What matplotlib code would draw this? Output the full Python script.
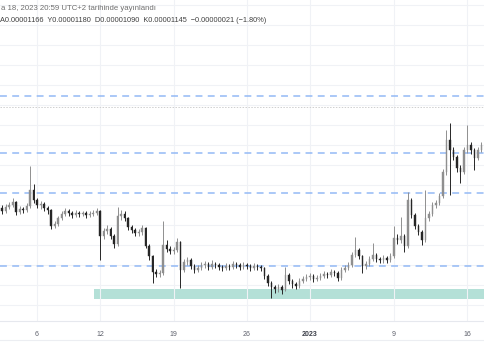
import matplotlib
matplotlib.use("Agg")
import matplotlib.pyplot as plt
import matplotlib.dates as mdates
from matplotlib.patches import Rectangle
import pandas as pd
import numpy as np

# ---- data (prices in units of 1e-8) ----
start_time = "2022-12-02 16:00"
candle_freq = "8h"
closes = [978, 986, 990, 996, 976, 982, 980, 988, 1020, 1000,
          990, 992, 984, 980, 948, 952, 964, 972, 978, 974,
          970, 974, 972, 974, 970, 972, 974, 978, 928, 938,
          942, 928, 912, 968, 972, 964, 946, 940, 934, 936,
          944, 908, 888, 856, 852, 854, 910, 902, 898, 900,
          916, 860, 876, 880, 868, 860, 864, 870, 872, 866,
          872, 870, 866, 864, 868, 866, 872, 870, 866, 870,
          868, 864, 868, 866, 864, 848, 834, 826, 822, 826,
          820, 850, 838, 832, 828, 838, 842, 846, 848, 842,
          844, 848, 852, 850, 856, 854, 844, 860, 864, 870,
          890, 900, 888, 868, 872, 882, 890, 882, 880, 884,
          880, 888, 924, 920, 928, 908, 1000, 970, 948, 936,
          920, 964, 972, 990, 994, 1008, 1056, 1120, 1100, 1086,
          1064, 1056, 1100, 1110, 1100, 1084, 1100, 1110]
highs = [990, 992, 996, 1004, 998, 988, 986, 994, 1068, 1032,
         1004, 998, 996, 988, 982, 958, 968, 978, 984, 982,
         978, 980, 978, 978, 978, 978, 980, 984, 980, 944,
         950, 946, 932, 986, 980, 978, 966, 950, 944, 942,
         950, 946, 912, 890, 862, 860, 958, 920, 908, 906,
         924, 918, 882, 886, 884, 872, 870, 876, 878, 876,
         880, 876, 874, 870, 874, 872, 878, 876, 874, 876,
         874, 872, 874, 872, 870, 866, 852, 838, 830, 832,
         830, 866, 854, 842, 836, 844, 848, 852, 854, 852,
         850, 854, 858, 856, 862, 860, 858, 866, 870, 876,
         896, 926, 904, 890, 878, 888, 914, 894, 886, 890,
         888, 894, 948, 932, 966, 932, 1016, 1004, 974, 952,
         940, 1020, 978, 996, 1000, 1014, 1062, 1140, 1154, 1106,
         1090, 1070, 1106, 1150, 1116, 1104, 1106, 1116]
lows = [972, 974, 982, 986, 970, 972, 974, 976, 984, 994,
        984, 982, 978, 972, 942, 944, 948, 960, 968, 968,
        964, 966, 966, 968, 964, 966, 968, 970, 880, 922,
        932, 922, 904, 908, 960, 958, 940, 934, 928, 928,
        930, 904, 880, 834, 846, 846, 850, 896, 892, 892,
        896, 824, 856, 870, 862, 854, 856, 860, 864, 860,
        862, 864, 860, 858, 860, 860, 862, 864, 860, 862,
        862, 858, 860, 860, 858, 842, 828, 804, 814, 816,
        812, 818, 832, 824, 822, 824, 834, 838, 840, 836,
        838, 840, 844, 844, 846, 848, 838, 840, 856, 860,
        866, 886, 882, 854, 862, 868, 878, 876, 874, 874,
        874, 876, 884, 912, 914, 896, 904, 964, 942, 930,
        910, 916, 958, 968, 984, 990, 1004, 1050, 1010, 1080,
        1056, 1034, 1052, 1094, 1092, 1060, 1080, 1096]
first_open = 984

resistance_levels = [1209, 1094, 1014, 868]
dotted_level = 1186
zone_low, zone_high = 803, 822
zone_start = "2022-12-11 11:00"

tick_dates = ["2022-12-06", "2022-12-12", "2022-12-19", "2022-12-26",
              "2023-01-01", "2023-01-09", "2023-01-16"]
tick_labels = ["6", "12", "19", "26", "2023", "9", "16"]
grid_levels = [790, 830, 870, 910, 950, 990, 1030, 1070, 1110, 1150,
               1190, 1230, 1270, 1310, 1350, 1390]

header1 = "a 18, 2023 20:59 UTC+2 tarihinde yayınlandı"
header2 = "A0.00001166  Y0.00001180  D0.00001090  K0.00001145  −0.00000021 (−1.80%)"

# ---- figure ----
fig = plt.figure(figsize=(4.85, 3.6), dpi=100)
ax = fig.add_axes([0, 39/360, 1, 321/360])

times = pd.date_range(start_time, periods=len(closes), freq=candle_freq)
x = mdates.date2num(times.to_pydatetime())
c = np.array(closes, float)
o = np.concatenate([[first_open], c[:-1]])
h = np.array(highs, float)
l = np.array(lows, float)

base = mdates.date2num(pd.Timestamp("2022-12-01").to_pydatetime())
ax.set_xlim(base + 1.476, base + 47.667)
ax.set_ylim(758, 1400)

# grid
ax.set_yticks(grid_levels)
ax.set_xticks(mdates.date2num(pd.to_datetime(tick_dates).to_pydatetime()))
ax.set_xticklabels(tick_labels)
ax.grid(True, color="#f0f2f6", lw=0.8, zorder=0)
ax.tick_params(axis="y", left=False, labelleft=False)
ax.tick_params(axis="x", length=0, pad=7.5, labelsize=5.0, colors="#5d606b")
for lab in ax.get_xticklabels():
    lab.set_fontfamily("Liberation Sans")
    if lab.get_text() == "2023":
        lab.set_fontweight("bold")
        lab.set_color("#3b3e48")
for s in ["top", "left", "right"]:
    ax.spines[s].set_visible(False)
ax.spines["bottom"].set_color("#e6e8ee")
ax.spines["bottom"].set_linewidth(0.8)

# zone
zs = mdates.date2num(pd.Timestamp(zone_start).to_pydatetime())
ax.add_patch(Rectangle((zs, zone_low), base + 60 - zs, zone_high - zone_low,
                       facecolor="#b4e0d7", edgecolor="none", zorder=1))

# levels
for lv in resistance_levels:
    ax.axhline(lv, color="#93b9f5", lw=1.1, ls=(0, (4.5, 3.5)), zorder=2)
ax.axhline(dotted_level, color="#cfcfcf", lw=0.7, ls=(0, (1.5, 1.5)), zorder=2)

# candles
up = c >= o
col = np.where(up, "#8f8f8f", "#262626")
width = 0.16
ax.vlines(x, l, h, colors=col, lw=0.7, zorder=3)
bottoms = np.minimum(o, c)
heights = np.maximum(np.abs(c - o), 1.2)
ax.bar(x, heights, bottom=bottoms, width=width, color=col, edgecolor=col,
       lw=0.3, zorder=4)

# headers
fig.text(1/485, 1 - 8/360, header1, fontsize=5.6, color="#6e6e6e",
         family="Liberation Sans", va="center", ha="left")
fig.text(0/485, 1 - 20/360, header2, fontsize=5.3, color="#404040",
         family="Liberation Sans", va="center", ha="left")

# bottom border of time scale
fig.add_artist(plt.Line2D([0, 1], [1 - 340/360, 1 - 340/360],
                          color="#eceef2", lw=0.8))

fig.savefig("out.png", dpi=100)
